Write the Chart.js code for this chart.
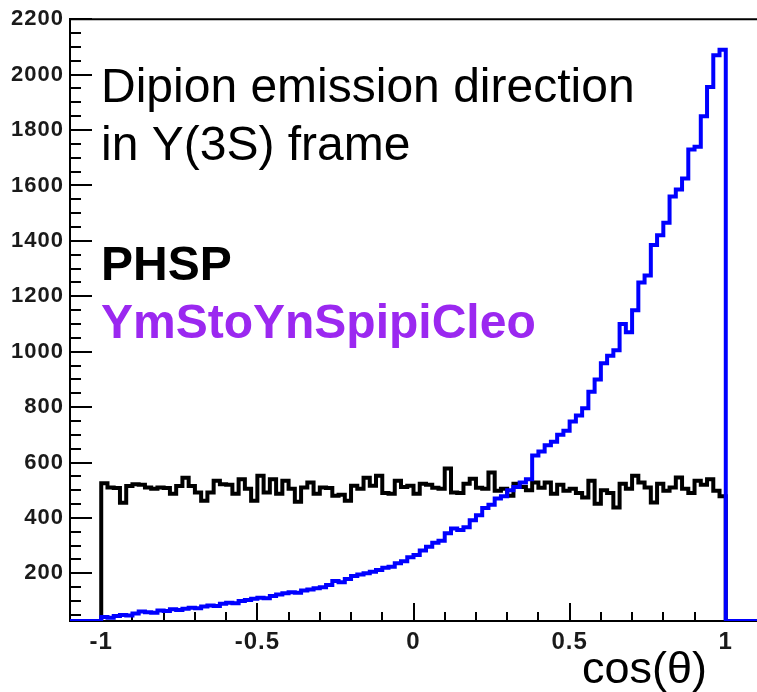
<!DOCTYPE html>
<html>
<head>
<meta charset="utf-8">
<script src="https://cdn.jsdelivr.net/npm/chart.js@4/dist/chart.umd.min.js"></script>
<style>
  html, body { margin: 0; padding: 0; background: #fff; }
  canvas { display: block; }
</style>
</head>
<body>
<canvas id="c" width="757" height="692"></canvas>
<script>
// ---- data ----
const X_MIN = -1.1, X_MAX = 1.1;       // axis range
const HIST_LO = -1.0, HIST_HI = 1.0;   // histogram range (100 bins)
const Y_MIN = 28, Y_MAX = 2200;

const xTickLabels = [-1, -0.5, 0, 0.5, 1];
const yTickLabels = [200, 400, 600, 800, 1000, 1200, 1400, 1600, 1800, 2000, 2200];

const phspCounts = [
  525, 510, 508, 455, 515, 522, 520, 510, 505, 510,
  508, 487, 515, 545, 515, 492, 462, 492, 534, 522,
  520, 487, 540, 505, 462, 552, 492, 540, 487, 534,
  505, 458, 510, 528, 487, 510, 508, 480, 484, 462,
  516, 505, 545, 516, 552, 490, 487, 534, 512, 516,
  487, 523, 520, 509, 505, 578, 492, 490, 523, 541,
  509, 505, 564, 498, 505, 480, 523, 512, 500, 528,
  509, 528, 487, 520, 498, 505, 490, 474, 534, 451,
  500, 490, 438, 523, 505, 552, 528, 510, 456, 523,
  498, 510, 546, 505, 490, 534, 520, 540, 498, 478
];

const cleoCounts = [
  42, 40, 46, 50, 48, 55, 62, 60, 58, 66,
  64, 70, 68, 72, 76, 74, 80, 84, 82, 90,
  94, 92, 100, 104, 108, 112, 110, 118, 124, 128,
  132, 130, 138, 142, 146, 150, 158, 172, 168, 180,
  190, 196, 200, 206, 212, 220, 224, 236, 244, 258,
  266, 282, 296, 310, 318, 345, 362, 356, 366, 392,
  410, 436, 448, 470, 478, 500, 512, 528, 540, 625,
  640, 662, 675, 700, 715, 748, 770, 796, 855, 900,
  958, 985, 1005, 1100, 1070, 1150, 1250, 1275, 1385, 1420,
  1465, 1560, 1585, 1625, 1730, 1740, 1850, 1955, 2070, 2090
];

// ---- build step outlines from bin contents ----
function outline(counts, base, extend) {
  const n = counts.length, w = (HIST_HI - HIST_LO) / n;
  const pts = [];
  if (extend) pts.push({x: X_MIN, y: base});
  pts.push({x: HIST_LO, y: base});
  counts.forEach((v, i) => pts.push({x: HIST_LO + i * w, y: v}));
  pts.push({x: HIST_HI, y: counts[n - 1]});
  pts.push({x: HIST_HI, y: base});
  if (extend) pts.push({x: X_MAX, y: base});
  return pts;
}

// ---- inward tick marks + frame + text ----
const rootStyle = {
  id: 'rootStyle',
  beforeDraw(chart) { chart.ctx.letterSpacing = '1px'; },
  beforeDatasetsDraw(chart) {
    const ctx = chart.ctx;
    ctx.letterSpacing = '0px';
    const {left, right, top, bottom} = chart.chartArea;
    const xs = chart.scales.x, ys = chart.scales.y;
    ctx.save();
    ctx.strokeStyle = '#000';
    ctx.lineWidth = 2;
    ctx.beginPath();
    // y ticks: major every 200, minor every 50
    for (let v = 0; v <= Y_MAX + 1e-6; v += 50) {
      if (v < Y_MIN) continue;
      const y = Math.round(ys.getPixelForValue(v));
      const major = yTickLabels.includes(v);
      ctx.moveTo(left, y);
      ctx.lineTo(left + (major ? 22 : 11), y);
    }
    // x ticks: major every 0.5, minor every 0.1
    for (let k = -10; k <= 10; k++) {
      const v = k / 10;
      const x = Math.round(xs.getPixelForValue(v));
      const major = (k % 5 === 0);
      ctx.moveTo(x, bottom);
      ctx.lineTo(x, bottom - (major ? 18 : 9));
    }
    // top frame
    ctx.moveTo(left, top);
    ctx.lineTo(right, top);
    ctx.stroke();
    ctx.restore();
  },
  afterDraw(chart) {
    const ctx = chart.ctx;
    ctx.save();
    ctx.letterSpacing = '0px';
    ctx.textAlign = 'left';
    ctx.textBaseline = 'alphabetic';
    ctx.fillStyle = '#000';
    ctx.font = '48px "Liberation Sans", Arial, sans-serif';
    ctx.fillText('Dipion emission direction', 101, 102);
    ctx.fillText('in Y(3S) frame', 101, 160);
    ctx.font = 'bold 48px "Liberation Sans", Arial, sans-serif';
    ctx.fillText('PHSP', 101, 280);
    ctx.fillStyle = 'rgb(155, 40, 240)';
    ctx.fillText('YmStoYnSpipiCleo', 101, 338);
    ctx.fillStyle = '#000';
    ctx.font = '45px "Liberation Sans", Arial, sans-serif';
    ctx.textAlign = 'right';
    ctx.fillText('cos(\u03B8)', 707, 683);
    ctx.restore();
  }
};

new Chart(document.getElementById('c'), {
  type: 'line',
  data: {
    datasets: [
      {
        label: 'YmStoYnSpipiCleo',
        data: outline(cleoCounts, Y_MIN, true),
        borderColor: 'rgb(0,0,255)',
        borderWidth: 4,
        stepped: true,
        pointRadius: 0,
        fill: false,
        order: 0
      },
      {
        label: 'PHSP',
        data: outline(phspCounts, Y_MIN, false),
        borderColor: '#000',
        borderWidth: 4,
        stepped: true,
        pointRadius: 0,
        fill: false,
        order: 1
      }
    ]
  },
  options: {
    responsive: false,
    devicePixelRatio: 1,
    animation: false,
    parsing: false,
    layout: { padding: { top: 15, right: -1, left: 0, bottom: 0 } },
    plugins: { legend: { display: false }, tooltip: { enabled: false } },
    scales: {
      x: {
        type: 'linear',
        min: X_MIN, max: X_MAX,
        grid: { display: false, drawTicks: false },
        border: { display: true, color: '#000', width: 2 },
        afterBuildTicks: (s) => { s.ticks = xTickLabels.map(v => ({value: v})); },
        afterFit: (s) => { s.height = 71; },
        ticks: {
          autoSkip: false, maxRotation: 0, padding: 7,
          color: '#1a1a1a',
          font: { family: '"Liberation Sans", Arial, sans-serif', size: 24, weight: 'bold' },
          callback: (v) => String(v)
        }
      },
      y: {
        type: 'linear',
        min: Y_MIN, max: Y_MAX,
        grid: { display: false, drawTicks: false },
        border: { display: true, color: '#000', width: 2 },
        afterBuildTicks: (s) => { s.ticks = yTickLabels.map(v => ({value: v})); },
        afterFit: (s) => { s.width = 70; },
        ticks: {
          autoSkip: false, padding: 6,
          color: '#1a1a1a',
          font: { family: '"Liberation Sans", Arial, sans-serif', size: 22, weight: 'bold' },
          callback: (v) => String(v)
        }
      }
    }
  },
  plugins: [rootStyle]
});
</script>
</body>
</html>
